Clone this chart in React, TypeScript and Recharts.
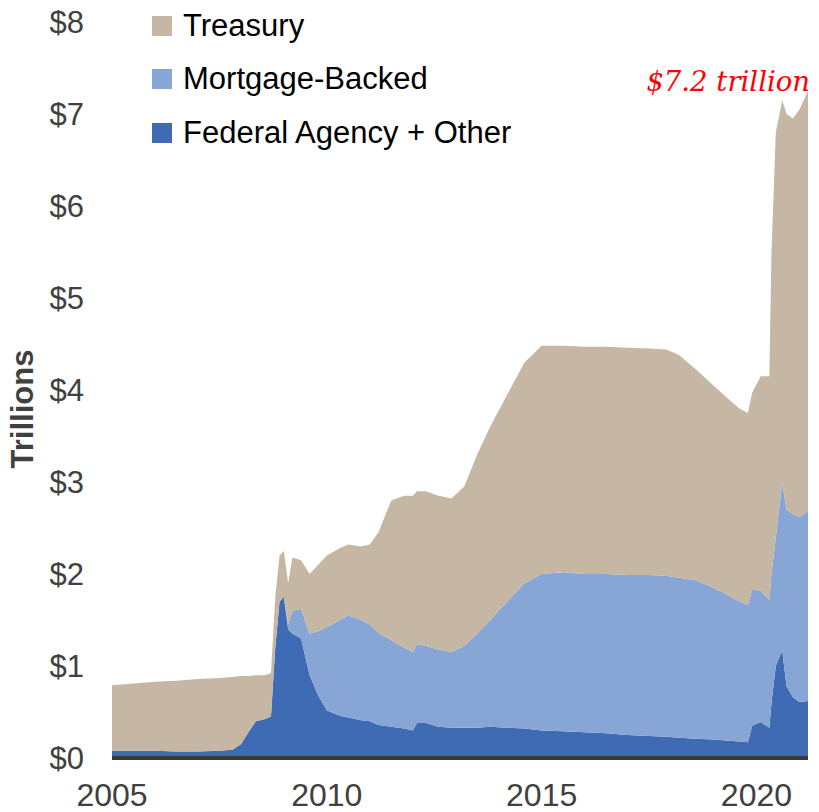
import { Area, AreaChart, ReferenceDot, XAxis, YAxis } from 'recharts'

// time in decimal years
const years = [
  2005.0, 2005.5, 2006.0, 2006.5, 2007.0, 2007.5, 2007.8, 2008.0, 2008.2, 2008.35,
  2008.55, 2008.7, 2008.8, 2008.9, 2009.0, 2009.1, 2009.2, 2009.4, 2009.6, 2009.8,
  2010.0, 2010.3, 2010.5, 2010.8, 2011.0, 2011.2, 2011.5, 2011.8, 2012.0, 2012.1,
  2012.3, 2012.6, 2012.9, 2013.2, 2013.5, 2013.8, 2014.2, 2014.6, 2015.0, 2015.5,
  2016.0, 2016.5, 2017.0, 2017.5, 2017.9, 2018.2, 2018.6, 2019.0, 2019.3, 2019.6,
  2019.8, 2019.9, 2020.1, 2020.3, 2020.35, 2020.45, 2020.6, 2020.7, 2020.85, 2021.0,
  2021.2,
]

// trillions of dollars
const federalOther = [
  0.08, 0.08, 0.08, 0.07, 0.07, 0.08, 0.09, 0.15, 0.3, 0.4,
  0.42, 0.45, 1.2, 1.7, 1.75, 1.4, 1.35, 1.3, 0.9, 0.68,
  0.52, 0.46, 0.44, 0.41, 0.4, 0.36, 0.34, 0.32, 0.3, 0.38,
  0.38, 0.34, 0.33, 0.33, 0.33, 0.34, 0.33, 0.32, 0.3, 0.29,
  0.28, 0.27, 0.25, 0.24, 0.23, 0.22, 0.21, 0.2, 0.19, 0.18,
  0.17, 0.35, 0.39, 0.33, 0.6, 1.0, 1.17, 0.78, 0.66, 0.61,
  0.62,
]

const mortgageBacked = [
  0, 0, 0, 0, 0, 0, 0, 0, 0, 0,
  0, 0, 0, 0, 0, 0.05, 0.25, 0.32, 0.45, 0.7,
  0.9, 1.04, 1.11, 1.09, 1.05, 1.0, 0.94, 0.88, 0.85, 0.86,
  0.84, 0.84, 0.82, 0.89, 1.02, 1.16, 1.37, 1.58, 1.7, 1.73,
  1.72, 1.73, 1.74, 1.75, 1.75, 1.74, 1.72, 1.65, 1.59, 1.52,
  1.49, 1.48, 1.43, 1.39, 1.4, 1.4, 1.83, 1.92, 1.99, 2.01,
  2.06,
]

const treasury = [
  0.71, 0.73, 0.75, 0.77, 0.79, 0.79, 0.79, 0.74, 0.59, 0.5,
  0.48, 0.47, 0.55, 0.5, 0.5, 0.45, 0.58, 0.53, 0.65, 0.72,
  0.78, 0.78, 0.77, 0.8, 0.87, 1.09, 1.52, 1.65, 1.7, 1.66,
  1.68, 1.67, 1.67, 1.73, 1.95, 2.1, 2.25, 2.4, 2.48, 2.46,
  2.47, 2.47, 2.47, 2.46, 2.46, 2.42, 2.29, 2.2, 2.14, 2.1,
  2.09, 2.14, 2.33, 2.43, 3.5, 4.4, 4.15, 4.3, 4.3, 4.43,
  4.57,
]

const xTicks = [2005, 2010, 2015, 2020]
const yTicks = [0, 1, 2, 3, 4, 5, 6, 7, 8]

const series = [
  { key: 'treasury', name: 'Treasury', color: '#c5b7a3' },
  { key: 'mortgage', name: 'Mortgage-Backed', color: '#87a5d5' },
  { key: 'federal', name: 'Federal Agency + Other', color: '#3e6bb4' },
]

const data = years.map((year, i) => ({
  year,
  federal: federalOther[i],
  mortgage: mortgageBacked[i],
  treasury: treasury[i],
}))

const last = data[data.length - 1]
const lastTotal = last.federal + last.mortgage + last.treasury

function LegendList() {
  return (
    <ul
      style={{
        position: 'absolute',
        left: 152,
        top: -1,
        listStyle: 'none',
        margin: 0,
        padding: 0,
      }}
    >
      {series.map((s) => (
        <li
          key={s.key}
          style={{ display: 'flex', alignItems: 'center', height: 53.5 }}
        >
          <span
            style={{ width: 20, height: 20, background: s.color, marginRight: 11 }}
          />
          <span style={{ fontSize: 31, color: '#000' }}>{s.name}</span>
        </li>
      ))}
    </ul>
  )
}

export default function App() {
  return (
    <div
      style={{
        position: 'relative',
        width: 819,
        height: 812,
        fontFamily: '"Liberation Sans", Arial, sans-serif',
      }}
    >
      <style>{'body{margin:0}'}</style>
      <AreaChart
        width={819}
        height={812}
        data={data}
        margin={{ top: 22, right: 11, bottom: 0, left: 0 }}
      >
        <XAxis
          dataKey="year"
          type="number"
          domain={[2005, 2021.2]}
          ticks={xTicks}
          tickLine={false}
          tickSize={0}
          tickMargin={25}
          height={54}
          axisLine={{ stroke: '#3a3a3a', strokeWidth: 4 }}
          tick={{ fontSize: 32, fill: '#404040' }}
        />
        <YAxis
          domain={[0, 8]}
          ticks={yTicks}
          width={112}
          tickLine={false}
          axisLine={false}
          tickSize={0}
          tickMargin={28}
          tickFormatter={(v) => `$${v}`}
          tick={{ fontSize: 31, fill: '#404040' }}
          label={{
            content: () => (
              <text
                x={33}
                y={409}
                transform="rotate(-90 33 409)"
                textAnchor="middle"
                fontSize={31}
                fontWeight="bold"
                fill="#404040"
              >
                Trillions
              </text>
            ),
          }}
        />
        <Area
          dataKey="federal"
          name="Federal Agency + Other"
          stackId="1"
          type="linear"
          stroke="none"
          fill="#3e6bb4"
          fillOpacity={1}
          isAnimationActive={false}
        />
        <Area
          dataKey="mortgage"
          name="Mortgage-Backed"
          stackId="1"
          type="linear"
          stroke="none"
          fill="#87a5d5"
          fillOpacity={1}
          isAnimationActive={false}
        />
        <Area
          dataKey="treasury"
          name="Treasury"
          stackId="1"
          type="linear"
          stroke="none"
          fill="#c5b7a3"
          fillOpacity={1}
          isAnimationActive={false}
        />
        <ReferenceDot
          x={last.year}
          y={lastTotal}
          r={1}
          fill="none"
          stroke="none"
          label={{
            content: (props: any) => {
              const vb = props.viewBox || {}
              return (
                <text
                  x={(vb.x ?? 0) + 3}
                  y={(vb.y ?? 0) + 1}
                  textAnchor="end"
                  fontFamily='"DejaVu Serif", serif'
                  fontStyle="italic"
                  fontSize={27.5}
                  fill="#ff0000"
                >
                  $7.2 trillion
                </text>
              )
            },
          }}
        />
      </AreaChart>
      <LegendList />
    </div>
  )
}
